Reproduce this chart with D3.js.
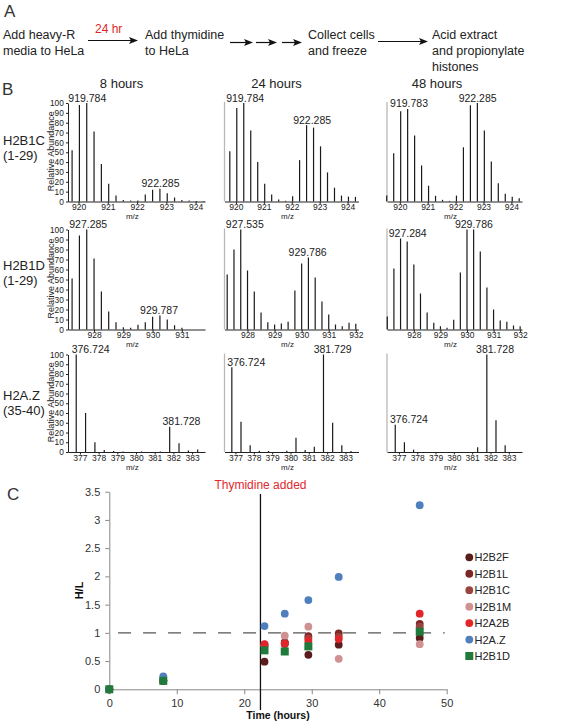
<!DOCTYPE html>
<html><head><meta charset="utf-8">
<script src="https://cdn.jsdelivr.net/npm/d3@7"></script>
<style>
body{margin:0;background:#fff;}
svg{display:block;font-family:"Liberation Sans",Arial,sans-serif;}
</style></head><body>
<svg id="c" width="567" height="723"></svg>
<script>
// ---------------- DATA ----------------
const timepoints = ["8 hours", "24 hours", "48 hours"];
const histones = ["H2B1C", "H2B1D", "H2A.Z"];
const histoneRanges = ["(1-29)", "(1-29)", "(35-40)"];

// m/z positions of isotope peaks (as drawn) per row
const mzH2B1C = [919.53, 919.78, 920.03, 920.28, 920.53, 920.78, 921.03, 921.28, 921.53, 921.78, 922.03, 922.28, 922.53, 922.78, 923.03, 923.28, 923.53, 923.78, 924.03, 924.28];
const mzH2B1D = [927.0, 927.25, 927.5, 927.75, 928.0, 928.25, 928.5, 928.75, 929.0, 929.25, 929.5, 929.75, 930.0, 930.25, 930.5, 930.75, 931.0, 931.25, 931.5, 931.75, 932.0];
const mzH2AZ = [376.8, 377.3, 377.8, 378.3, 378.8, 379.3, 379.8, 380.3, 380.8, 381.3, 381.8, 382.3, 382.8, 383.3];

// relative abundances (8h, 24h, 48h)
const intH2B1C_8h  = [0, 52, 98, 100, 71, 38, 18, 6, 1.5, 1, 1, 7, 12, 13, 8.5, 4, 1.5, 1, 0.5, 0.5];
const intH2B1C_24h = [0, 51, 95, 100, 72, 40, 18, 7, 2, 0.7, 5.4, 42, 77.5, 75, 56, 29.5, 14, 6, 5, 4.7];
const intH2B1C_48h = [6, 49, 91.5, 94, 67, 36.6, 16, 5.8, 1.7, 0.7, 6, 55, 97.6, 100, 72, 40.7, 18.6, 7.8, 4.7, 3.4];
const intH2B1D_8h  = [0, 51, 94, 100, 71, 38, 18, 7.3, 2.3, 1.7, 4.7, 7.3, 12.7, 14, 10, 4.3, 1.7, 0, 0, 0, 0];
const intH2B1D_24h = [0, 55, 80, 100, 59, 38, 17, 7.3, 5, 6, 7.7, 39, 66, 72, 52, 28, 15, 5, 3.3, 6.7, 5.7];
const intH2B1D_48h = [13, 61, 91, 88, 65, 36, 17, 6.7, 3.3, 1.7, 9.7, 57, 100, 100, 78, 42, 20, 9, 7.7, 4, 3.3];
const intH2AZ_8h   = [100, 40, 10, 2, 1, 0.5, 0, 0.5, 0, 0.5, 26, 9, 1.5, 2.5];
const intH2AZ_24h  = [87, 31, 7, 1.4, 1, 0, 1.4, 14.5, 2, 5.5, 100, 30, 7, 1];
const intH2AZ_48h  = [28, 10, 2.4, 0, 0, 0, 0, 0, 0, 4.8, 100, 32.5, 7, 0];

const mzTicksH2B1C = [920, 921, 922, 923, 924];
const mzTicksH2B1D = [928, 929, 930, 931, 932];
const mzTicksH2AZ = [377, 378, 379, 380, 381, 382, 383];
const abundanceTicks = [0, 10, 20, 30, 40, 50, 60, 70, 80, 90, 100];

// peak annotations: [text, m/z of label centre, abundance of labelled peak]
const labelsH2B1C = [[["919.784", 920.3, 100], ["922.285", 922.8, 13]],
                     [["919.784", 920.33, 100], ["922.285", 922.73, 77.5]],
                     [["919.783", 920.33, 94], ["922.285", 922.79, 100]]];
const labelsH2B1D = [[["927.285", 927.8, 100], ["929.787", 930.22, 14]],
                     [["927.535", 927.9, 100], ["929.786", 930.22, 72]],
                     [["927.284", 927.77, 91], ["929.786", 930.26, 100]]];
const labelsH2AZ  = [[["376.724", 377.57, 100], ["381.728", 382.43, 26]],
                     [["376.724", 377.59, 87], ["381.729", 382.3, 100]],
                     [["376.724", 377.55, 28], ["381.728", 382.25, 100]]];

// panel C
const times = [0, 8, 23, 26, 29.5, 34, 46];
const seriesNames = ["H2B2F", "H2B1L", "H2B1C", "H2B1M", "H2A2B", "H2A.Z", "H2B1D"];
const vH2B2F = [0, 0.15, 0.49, 0.83, 0.61, 0.79, 0.91];
const vH2B1L = [0, 0.15, 0.77, 0.82, 0.94, 0.99, 1.16];
const vH2B1C = [0, 0.15, 0.79, 0.80, 0.90, 0.93, 1.11];
const vH2B1M = [0, 0.15, 0.78, 0.95, 1.11, 0.54, 0.80];
const vH2A2B = [0, 0.15, 0.80, 0.81, 0.86, 0.89, 1.34];
const vH2AZ  = [0, 0.23, 1.12, 1.34, 1.58, 1.99, 3.26];
const vH2B1D = [0, 0.15, 0.69, 0.67, 0.76, null, 1.02];
const timeTicks = [0, 10, 20, 30, 40, 50];
const hlTicks = [0, 0.5, 1, 1.5, 2, 2.5, 3, 3.5];
const hlTickLabels = ["0", "0.5", "1", "1.5", "2", "2.5", "3", "3.5"];
const thymidineTime = 22.4;
const referenceHL = 1;

// ---------------- STYLE / LAYOUT ----------------
const seriesColors = ["#5a1c1d", "#7d2627", "#9a443f", "#cf9191", "#e2252b", "#4f7fbd", "#1f7a3c"];
const colX = [68, 224.5, 387], colW = [137, 134, 135];
const rowBase = [201.5, 329.5, 452], rowTop = [103, 229.5, 354.5];
const rowLabelY = [145, 270, 400];
const rowDomains = [
  [[919.64, 924.32], [919.59, 924.39], [919.54, 924.38]],
  [[927.11, 931.79], [927.15, 932.1], [926.99, 932.07]],
  [[376.36, 383.69], [376.4, 383.71], [376.35, 383.72]]
];
const FF = "Liberation Sans, Arial, sans-serif";

const svg = d3.select("#c");

// ---------------- PANEL A ----------------
svg.append("text").attr("x", 4).attr("y", 17).attr("font-size", 17).attr("fill", "#333").text("A");
function multi(x, y, lines) {
  const t = svg.append("text").attr("font-size", 12.5).attr("fill", "#222");
  lines.forEach((l, i) => t.append("tspan").attr("x", x).attr("y", y + i * 16).text(l));
}
multi(3, 39, ["Add heavy-R", "media to HeLa"]);
multi(145, 39, ["Add thymidine", "to HeLa"]);
multi(308, 39, ["Collect cells", "and freeze"]);
multi(432, 39, ["Acid extract", "and propionylate", "histones"]);
svg.append("text").attr("x", 95).attr("y", 33).attr("font-size", 12).attr("fill", "#e0242a").text("24 hr");
function arrow(x1, x2, y) {
  svg.append("line").attr("x1", x1).attr("x2", x2 - 5).attr("y1", y).attr("y2", y)
    .attr("stroke", "#111").attr("stroke-width", 1.2);
  svg.append("path").attr("d", `M${x2},${y}L${x2 - 9},${y - 3.5}L${x2 - 7},${y}L${x2 - 9},${y + 3.5}Z`).attr("fill", "#111");
}
arrow(88, 138, 40.5); arrow(230, 253, 42.5); arrow(256, 277, 42.5); arrow(282, 302, 42.5); arrow(378, 428, 41.5);

// ---------------- PANEL B ----------------
svg.append("text").attr("x", 2).attr("y", 95).attr("font-size", 17).attr("fill", "#333").text("B");
timepoints.forEach((t, c) => {
  svg.append("text").attr("x", colX[c] + [53.5, 52, 50][c]).attr("y", 88).attr("text-anchor", "middle")
    .attr("font-size", 13).attr("fill", "#222").text(t);
});

const rows = [
  {mz: mzH2B1C, ints: [intH2B1C_8h, intH2B1C_24h, intH2B1C_48h], ticks: mzTicksH2B1C, labels: labelsH2B1C},
  {mz: mzH2B1D, ints: [intH2B1D_8h, intH2B1D_24h, intH2B1D_48h], ticks: mzTicksH2B1D, labels: labelsH2B1D},
  {mz: mzH2AZ, ints: [intH2AZ_8h, intH2AZ_24h, intH2AZ_48h], ticks: mzTicksH2AZ, labels: labelsH2AZ}
];

rows.forEach((row, r) => {
  const base = rowBase[r], top = rowTop[r];
  const y = d3.scaleLinear().domain([0, 100]).range([base, top]);
  svg.append("text").attr("x", 3).attr("y", rowLabelY[r]).attr("font-size", 13).attr("fill", "#222").text(histones[r]);
  svg.append("text").attr("x", 3).attr("y", rowLabelY[r] + 15).attr("font-size", 13).attr("fill", "#222").text(histoneRanges[r]);

  for (let c = 0; c < 3; c++) {
    const x = d3.scaleLinear().domain(rowDomains[r][c]).range([colX[c], colX[c] + colW[c]]);
    const g = svg.append("g");
    if (c === 0) {
      const ya = g.append("g").attr("transform", `translate(${colX[c]},0)`)
        .call(d3.axisLeft(y).tickValues(abundanceTicks).tickSize(2).tickSizeOuter(0));
      ya.selectAll("text").attr("font-size", 8.3).attr("font-family", FF).attr("fill", "#222").attr("dx", "0.1em");
      ya.selectAll("line,path").attr("stroke", "#222");
      g.append("text").attr("transform", `translate(${colX[c] - 14},${(base + top) / 2 - 1}) rotate(-90)`)
        .attr("text-anchor", "middle").attr("font-size", 9).attr("fill", "#222").text("Relative Abundance");
    } else {
      g.append("line").attr("x1", colX[c]).attr("x2", colX[c]).attr("y1", base).attr("y2", top - 1)
        .attr("stroke", "#b8b8b8").attr("stroke-width", 1.3);
    }
    const data = row.mz.map((m, i) => ({m, h: row.ints[c][i]})).filter(d => d.h > 0);
    g.selectAll("line.pk").data(data).join("line").attr("class", "pk")
      .attr("x1", d => x(d.m)).attr("x2", d => x(d.m))
      .attr("y1", y(0)).attr("y2", d => y(d.h))
      .attr("stroke", "#1a1a1a").attr("stroke-width", 1.2);
    const xa = g.append("g").attr("transform", `translate(0,${base})`)
      .call(d3.axisBottom(x).tickValues(row.ticks.filter(t => t >= x.domain()[0] && t <= x.domain()[1]))
        .tickSize(2.5).tickSizeOuter(0).tickFormat(d3.format("d")));
    xa.selectAll("text").attr("font-size", 8.5).attr("font-family", FF).attr("fill", "#222")
      .attr("y", 2.5).attr("dy", "0.71em");
    xa.selectAll("line,path").attr("stroke", "#222");
    g.append("text").attr("x", colX[c] + colW[c] * 0.47).attr("y", base + 17.8).attr("text-anchor", "middle")
      .attr("font-size", 8).attr("fill", "#222").text("m/z");
    row.labels[c].forEach(([txt, m, h]) => {
      g.append("text").attr("x", x(m)).attr("y", y(h) - 1.5).attr("text-anchor", "middle")
        .attr("font-size", 10.5).attr("fill", "#222").text(txt);
    });
  }
});

// ---------------- PANEL C ----------------
svg.append("text").attr("x", 7).attr("y", 500).attr("font-size", 17).attr("fill", "#333").text("C");
const xC = d3.scaleLinear().domain([0, 50]).range([109.3, 446.7]);
const yC = d3.scaleLinear().domain([0, 3.5]).range([689.3, 491.7]);

const gx = svg.append("g").attr("transform", `translate(0,${yC(0)})`)
  .call(d3.axisBottom(xC).tickValues(timeTicks).tickSize(5).tickSizeOuter(0));
gx.selectAll("line,path").attr("stroke", "#888");
gx.selectAll("text").attr("font-size", 11).attr("font-family", FF).attr("fill", "#333").attr("dy", "0.85em");
const gy = svg.append("g").attr("transform", `translate(${xC(0)},0)`)
  .call(d3.axisLeft(yC).tickValues(hlTicks).tickSize(4).tickSizeOuter(0).tickFormat((d, i) => hlTickLabels[i]));
gy.selectAll("line,path").attr("stroke", "#888");
gy.selectAll("text").attr("font-size", 11).attr("font-family", FF).attr("fill", "#333").attr("x", -9);

svg.append("text").attr("transform", `translate(83,${(yC(0) + yC(3.5)) / 2}) rotate(-90)`)
  .attr("text-anchor", "middle").attr("font-size", 11).attr("font-weight", "bold").attr("fill", "#111").text("H/L");
svg.append("text").attr("x", 278).attr("y", 719).attr("text-anchor", "middle")
  .attr("font-size", 10.5).attr("font-weight", "bold").attr("fill", "#111").text("Time (hours)");

svg.append("line").attr("x1", xC(1.3)).attr("x2", xC(49.7)).attr("y1", yC(referenceHL)).attr("y2", yC(referenceHL))
  .attr("stroke", "#555").attr("stroke-width", 1.4).attr("stroke-dasharray", "13,12");
svg.append("line").attr("x1", xC(thymidineTime)).attr("x2", xC(thymidineTime)).attr("y1", 494).attr("y2", 710)
  .attr("stroke", "#111").attr("stroke-width", 1.3);
svg.append("text").attr("x", xC(thymidineTime)).attr("y", 489).attr("text-anchor", "middle")
  .attr("font-size", 12).attr("fill", "#e0282d").text("Thymidine added");

const R = 3.9, S = 8;
const allSeries = [vH2B2F, vH2B1L, vH2B1C, vH2B1M, vH2A2B, vH2AZ, vH2B1D];
allSeries.forEach((vals, s) => {
  const pts = times.map((t, i) => ({t, v: vals[i]})).filter(d => d.v !== null);
  if (seriesNames[s] === "H2B1D") {
    svg.append("g").selectAll("rect").data(pts).join("rect")
      .attr("x", d => xC(d.t) - S / 2).attr("y", d => yC(d.v) - S / 2).attr("width", S).attr("height", S)
      .attr("fill", seriesColors[s]);
  } else {
    svg.append("g").selectAll("circle").data(pts).join("circle")
      .attr("cx", d => xC(d.t)).attr("cy", d => yC(d.v)).attr("r", R).attr("fill", seriesColors[s]);
  }
});

const lg = svg.append("g");
seriesNames.forEach((n, i) => {
  const yy = 557.3 + i * 16.45;
  if (n === "H2B1D") {
    lg.append("rect").attr("x", 469.3 - S / 2).attr("y", yy - S / 2).attr("width", S).attr("height", S).attr("fill", seriesColors[i]);
  } else {
    lg.append("circle").attr("cx", 469.3).attr("cy", yy).attr("r", R).attr("fill", seriesColors[i]);
  }
  lg.append("text").attr("x", 474.5).attr("y", yy + 4).attr("font-size", 11).attr("fill", "#222").text(n);
});
</script>
</body></html>
